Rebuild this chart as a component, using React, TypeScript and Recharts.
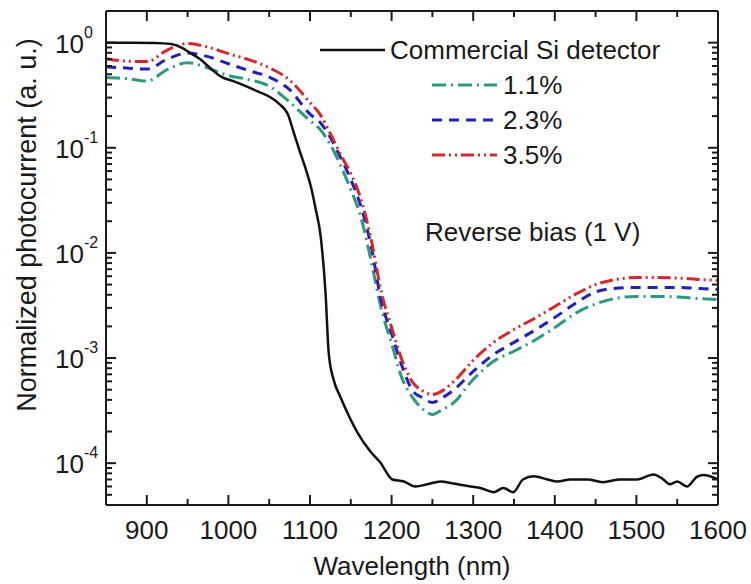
import { LineChart, Line, XAxis, YAxis, Label, Customized, ReferenceLine } from "recharts";

const WIDTH = 751;
const HEIGHT = 584;
// plot box in page pixels
const PLOT = { left: 106, top: 11, right: 718, bottom: 505 };
const FONT = '"Liberation Sans", Arial, sans-serif';
const INK = "#1a1a1a";

const X_DOMAIN = [850, 1600];
const Y_DOMAIN = [4e-5, 2];

// commercial Si detector
const siWavelength = [
  850, 880, 910, 930, 942, 954, 966, 978, 991, 1006, 1031, 1060, 1073, 1080,
  1088, 1095, 1101, 1107, 1113, 1119, 1123, 1129, 1137, 1146, 1158, 1174, 1186,
  1201, 1215, 1229, 1244, 1260, 1276, 1297, 1309, 1325, 1337, 1349, 1361, 1374,
  1391, 1403, 1419, 1440, 1459, 1480, 1501, 1521, 1533, 1541, 1550, 1562, 1574,
  1582, 1600,
];
const siSignal = [
  1.0, 1.0, 0.995, 0.97, 0.9, 0.79, 0.69, 0.57, 0.475, 0.43, 0.357, 0.27, 0.207,
  0.14, 0.09, 0.062, 0.043, 0.026, 0.0145, 0.0042, 1.1e-3, 6.2e-4, 4.3e-4, 3.0e-4,
  1.96e-4, 1.29e-4, 1.02e-4, 7.0e-5, 6.7e-5, 6.0e-5, 6.3e-5, 6.7e-5, 6.4e-5,
  6.0e-5, 5.8e-5, 5.3e-5, 5.8e-5, 5.3e-5, 7.0e-5, 7.5e-5, 7.0e-5, 6.7e-5, 7.0e-5,
  7.0e-5, 6.6e-5, 7.0e-5, 7.0e-5, 7.8e-5, 7.0e-5, 6.3e-5, 6.7e-5, 6.0e-5, 7.4e-5,
  7.7e-5, 7.0e-5,
];

// doped samples, shared wavelength grid
const wavelength = [
  850, 875, 900, 925, 950, 975, 1000, 1025, 1050, 1075, 1100, 1112.5, 1125,
  1137.5, 1150, 1162.5, 1175, 1187.5, 1200, 1212.5, 1225, 1237.5, 1250, 1262.5,
  1275, 1300, 1325, 1350, 1375, 1400, 1425, 1450, 1475, 1500, 1525, 1550, 1575,
  1600,
];
const pct11 = [
  0.465, 0.455, 0.431, 0.554, 0.645, 0.573, 0.486, 0.445, 0.386, 0.272, 0.181,
  0.149, 0.107, 0.0678, 0.04, 0.0217, 8.28e-3, 2.9e-3, 1.38e-3, 6.5e-4, 4.3e-4,
  3.3e-4, 2.91e-4, 3.24e-4, 3.7e-4, 6.26e-4, 9.3e-4, 1.16e-3, 1.47e-3, 1.95e-3,
  2.65e-3, 3.27e-3, 3.7e-3, 3.85e-3, 3.85e-3, 3.81e-3, 3.69e-3, 3.6e-3,
];
const pct23 = [
  0.591, 0.573, 0.56, 0.697, 0.795, 0.736, 0.63, 0.542, 0.47, 0.357, 0.209,
  0.174, 0.125, 0.0807, 0.0499, 0.0276, 0.0115, 3.45e-3, 1.71e-3, 8.5e-4, 5.0e-4,
  4.2e-4, 3.78e-4, 4.2e-4, 4.9e-4, 7.46e-4, 1.08e-3, 1.41e-3, 1.83e-3, 2.43e-3,
  3.3e-3, 4.25e-3, 4.6e-3, 4.69e-3, 4.69e-3, 4.69e-3, 4.59e-3, 4.49e-3,
];
const pct35 = [
  0.705, 0.667, 0.66, 0.85, 0.98, 0.906, 0.786, 0.689, 0.578, 0.44, 0.269,
  0.207, 0.136, 0.086, 0.0569, 0.0322, 0.0134, 4.2e-3, 1.95e-3, 9.7e-4, 6.0e-4,
  4.9e-4, 4.5e-4, 4.9e-4, 5.86e-4, 9.5e-4, 1.41e-3, 1.87e-3, 2.38e-3, 3.09e-3,
  4.03e-3, 5.0e-3, 5.6e-3, 5.83e-3, 5.83e-3, 5.77e-3, 5.6e-3, 5.47e-3,
];

const seriesNames = ["Commercial Si detector", "1.1%", "2.3%", "3.5%"];
const seriesColors = ["#111111", "#2a9a80", "#2020c0", "#d8262b"];
const seriesDash = ["", "14 5 2 5", "10 7", "13 4 2 4 2 4"];

const xTicks = [
  900, 950, 1000, 1050, 1100, 1150, 1200, 1250, 1300, 1350, 1400, 1450, 1500,
  1550, 1600,
];
const decadeExponents = [-5, -4, -3, -2, -1, 0];
const yTicks = decadeExponents
  .flatMap((e) => [1, 2, 3, 4, 5, 6, 7, 8, 9].map((m) => m * 10 ** e))
  .filter((v) => v > 4.1e-5 && v < 1.9);

const siData = siWavelength.map((w, i) => ({ w, si: siSignal[i] }));
const sampleData = wavelength.map((w, i) => ({
  w,
  a: pct11[i],
  b: pct23[i],
  c: pct35[i],
}));

const isDecade = (v: number) => {
  const l = Math.log10(v);
  return Math.abs(l - Math.round(l)) < 1e-9;
};

// inward tick marks as short reference segments, lengths in px turned into data units
const MAJOR = 10;
const MINOR = 6;
const pxPerNm = (PLOT.right - PLOT.left) / (X_DOMAIN[1] - X_DOMAIN[0]);
const pxPerDecade = (PLOT.bottom - PLOT.top) / Math.log10(Y_DOMAIN[1] / Y_DOMAIN[0]);
const nmFor = (px: number) => px / pxPerNm;
const factorFor = (px: number) => 10 ** (px / pxPerDecade);

const xTickSegments = xTicks.flatMap((v) => {
  const len = v % 100 === 0 ? MAJOR : MINOR;
  return [
    [{ x: v, y: Y_DOMAIN[0] }, { x: v, y: Y_DOMAIN[0] * factorFor(len) }],
    [{ x: v, y: Y_DOMAIN[1] }, { x: v, y: Y_DOMAIN[1] / factorFor(len) }],
  ];
});
const yTickSegments = yTicks.flatMap((v) => {
  const len = isDecade(v) ? MAJOR : MINOR;
  return [
    [{ x: X_DOMAIN[0], y: v }, { x: X_DOMAIN[0] + nmFor(len), y: v }],
    [{ x: X_DOMAIN[1] - nmFor(len), y: v }, { x: X_DOMAIN[1], y: v }],
  ];
});

const BottomTick = (props: any) => {
  const x = Number(props.x);
  const v = props.payload.value;
  if (v % 100 !== 0) return <g />;
  return (
    <text x={x} y={539} textAnchor="middle" fontSize={26} fontFamily={FONT} fill={INK}>
      {v}
    </text>
  );
};

const LeftTick = (props: any) => {
  const y = Number(props.y);
  const v = props.payload.value;
  if (!isDecade(v)) return <g />;
  const e = Math.round(Math.log10(v));
  return (
    <text x={55} y={y + 10} fontSize={26} fontFamily={FONT} fill={INK}>
      10
      <tspan dy={-15} fontSize={16}>
        {e === 0 ? "0" : `-${Math.abs(e)}`}
      </tspan>
    </text>
  );
};

const legendRows = [50, 85, 120, 155];

const LegendBlock = () => (
  <g>
    {seriesNames.map((name, i) => {
      const y = legendRows[i];
      const x1 = i === 0 ? 320 : 432;
      const x2 = i === 0 ? 385 : 497;
      return (
        <g key={name}>
          <line
            x1={x1}
            x2={x2}
            y1={y}
            y2={y}
            stroke={seriesColors[i]}
            strokeWidth={i === 0 ? 2.5 : 3}
            strokeDasharray={seriesDash[i] || undefined}
          />
          <text x={i === 0 ? 390 : 503} y={y + 9} fontSize={26} fontFamily={FONT} fill={INK}>
            {name}
          </text>
        </g>
      );
    })}
    <text x={425} y={241} fontSize={26} fontFamily={FONT} fill={INK}>
      Reverse bias (1 V)
    </text>
  </g>
);

export default function App() {
  return (
    <div
      style={{
        position: "absolute",
        left: 0,
        top: 0,
        width: WIDTH,
        height: HEIGHT,
        background: "#fff",
        fontFamily: FONT,
      }}
    >
      <LineChart width={WIDTH} height={HEIGHT} margin={{ top: 10, right: 32, bottom: 0, left: 0 }}>
        <XAxis
          dataKey="w"
          type="number"
          domain={X_DOMAIN}
          allowDataOverflow
          ticks={xTicks}
          interval={0}
          height={79}
          tickLine={false}
          axisLine={{ stroke: INK, strokeWidth: 2 }}
          tick={BottomTick}
        >
          <Label value="Wavelength (nm)" position="insideBottom" offset={9} fontSize={26} fontFamily={FONT} fill={INK} />
        </XAxis>
        <XAxis
          xAxisId="top"
          orientation="top"
          dataKey="w"
          type="number"
          domain={X_DOMAIN}
          allowDataOverflow
          height={1}
          tick={false}
          tickLine={false}
          axisLine={{ stroke: INK, strokeWidth: 2 }}
        />
        <YAxis
          type="number"
          scale="log"
          domain={Y_DOMAIN}
          allowDataOverflow
          ticks={yTicks}
          interval={0}
          width={106}
          tickLine={false}
          axisLine={{ stroke: INK, strokeWidth: 2 }}
          tick={LeftTick}
        >
          <Label
            content={() => (
              <text
                transform="translate(27 225) rotate(-90)"
                textAnchor="middle"
                dominantBaseline="central"
                fontSize={27}
                fontFamily={FONT}
                fill={INK}
              >
                Normalized photocurrent (a. u.)
              </text>
            )}
          />
        </YAxis>
        <YAxis
          yAxisId="right"
          orientation="right"
          type="number"
          scale="log"
          domain={Y_DOMAIN}
          allowDataOverflow
          width={1}
          tick={false}
          tickLine={false}
          axisLine={{ stroke: INK, strokeWidth: 2 }}
        />
        <Line
          data={sampleData}
          dataKey="a"
          name={seriesNames[1]}
          type="monotone"
          stroke={seriesColors[1]}
          strokeWidth={3}
          strokeDasharray={seriesDash[1]}
          dot={false}
          isAnimationActive={false}
        />
        <Line
          data={sampleData}
          dataKey="b"
          name={seriesNames[2]}
          type="monotone"
          stroke={seriesColors[2]}
          strokeWidth={3}
          strokeDasharray={seriesDash[2]}
          dot={false}
          isAnimationActive={false}
        />
        <Line
          data={sampleData}
          dataKey="c"
          name={seriesNames[3]}
          type="monotone"
          stroke={seriesColors[3]}
          strokeWidth={3}
          strokeDasharray={seriesDash[3]}
          dot={false}
          isAnimationActive={false}
        />
        <Line
          data={siData}
          dataKey="si"
          name={seriesNames[0]}
          type="monotone"
          stroke={seriesColors[0]}
          strokeWidth={2.5}
          dot={false}
          isAnimationActive={false}
        />
        {[...xTickSegments, ...yTickSegments].map((seg, i) => (
          <ReferenceLine key={`tick-${i}`} segment={seg} stroke={INK} strokeWidth={2} ifOverflow="visible" />
        ))}
        <Customized component={LegendBlock} />
      </LineChart>
    </div>
  );
}
